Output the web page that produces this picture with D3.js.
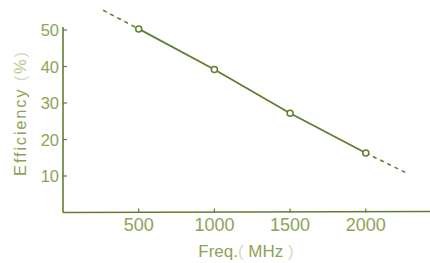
<!DOCTYPE html>
<html>
<head>
<meta charset="utf-8">
<script src="https://cdn.jsdelivr.net/npm/d3@7"></script>
<style>
  body { margin: 0; background: #fff; }
  svg text { font-family: "Liberation Sans", Arial, sans-serif; fill: #8ca356; }
</style>
</head>
<body>
<div id="chart"></div>
<script>
// measured points
var freqs = [500, 1000, 1500, 2000]
var effs = [50.3, 39.2, 27.2, 16.3]
// dashed extrapolation ends
var extLeft = [[265, 55.4], [500, 50.3]]
var extRight = [[2000, 16.3], [2270, 10.8]]
var xTicks = [500, 1000, 1500, 2000]
var yTicks = [10, 20, 30, 40, 50]

var W = 430, H = 263
var lineCol = "#5f7f2f"

var x = d3.scaleLinear().domain([0, 500]).range([63, 138.7])
var y = d3.scaleLinear().domain([0, 10]).range([212.5, 176])

var svg = d3.select("#chart").append("svg")
  .attr("width", W)
  .attr("height", H)

// axes
svg.append("line")
  .attr("x1", x(0)).attr("y1", 27)
  .attr("x2", x(0)).attr("y2", y(0))
  .attr("stroke", lineCol).attr("stroke-width", 1.6)
svg.append("line")
  .attr("x1", x(0)).attr("y1", y(0))
  .attr("x2", W).attr("y2", y(0) - 1)
  .attr("stroke", lineCol).attr("stroke-width", 1.6)

// y ticks
svg.selectAll(".yt").data(yTicks).enter().append("line")
  .attr("x1", x(0)).attr("x2", x(0) + 4)
  .attr("y1", function(d) { return y(d) }).attr("y2", function(d) { return y(d) })
  .attr("stroke", lineCol).attr("stroke-width", 1.2)
svg.selectAll(".yl").data(yTicks).enter().append("text")
  .attr("x", x(0) - 4)
  .attr("y", function(d) { return y(d) + 6 })
  .attr("text-anchor", "end")
  .attr("font-size", 16.5)
  .text(function(d) { return d })

// x ticks
svg.selectAll(".xt").data(xTicks).enter().append("line")
  .attr("x1", function(d) { return x(d) }).attr("x2", function(d) { return x(d) })
  .attr("y1", y(0)).attr("y2", y(0) - 4)
  .attr("stroke", lineCol).attr("stroke-width", 1.2)
svg.selectAll(".xl").data(xTicks).enter().append("text")
  .attr("x", function(d) { return x(d) })
  .attr("y", 230.5)
  .attr("text-anchor", "middle")
  .attr("font-size", 18)
  .text(function(d) { return d })

// axis titles
var xt = svg.append("text")
  .attr("x", 246).attr("y", 257)
  .attr("text-anchor", "middle")
  .attr("font-size", 17)
xt.append("tspan").text("Freq.")
xt.append("tspan").attr("fill", "#d3ddbf").text("( ")
xt.append("tspan").text("MHz")
xt.append("tspan").attr("fill", "#d3ddbf").text(" )")

var yt = svg.append("text")
  .attr("transform", "translate(26,113) rotate(-90)")
  .attr("text-anchor", "middle")
  .attr("font-size", 16.5)
  .attr("letter-spacing", 1.8)
yt.append("tspan").text("Efficiency ")
yt.append("tspan").attr("fill", "#d3ddbf").text("(")
yt.append("tspan").attr("fill", "#b5c68e").text("%")
yt.append("tspan").attr("fill", "#d3ddbf").text(")")

// data line
var data = freqs.map(function(f, i) { return [f, effs[i]] })
var line = d3.line()
  .x(function(d) { return x(d[0]) })
  .y(function(d) { return y(d[1]) })

svg.append("path")
  .datum(data)
  .attr("d", line)
  .attr("fill", "none")
  .attr("stroke", lineCol)
  .attr("stroke-width", 1.8)

;[extLeft, extRight].forEach(function(seg) {
  svg.append("path")
    .datum(seg)
    .attr("d", line)
    .attr("fill", "none")
    .attr("stroke", lineCol)
    .attr("stroke-width", 1.6)
    .attr("stroke-dasharray", "4,4")
})

svg.selectAll(".pt").data(data).enter().append("circle")
  .attr("cx", function(d) { return x(d[0]) })
  .attr("cy", function(d) { return y(d[1]) })
  .attr("r", 3)
  .attr("fill", "#fff")
  .attr("stroke", lineCol)
  .attr("stroke-width", 1.5)
</script>
</body>
</html>
